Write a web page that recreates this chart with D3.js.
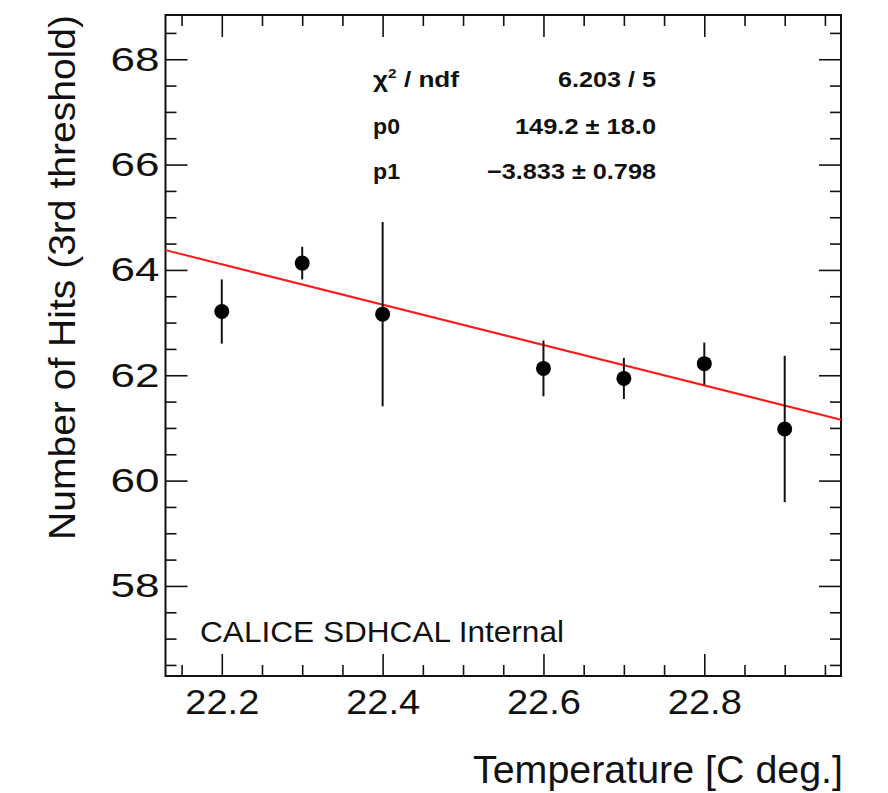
<!DOCTYPE html>
<html>
<head>
<meta charset="utf-8">
<script src="https://cdn.jsdelivr.net/npm/d3@7"></script>
<style>
  html, body { margin: 0; padding: 0; background: #fff; }
  svg { display: block; }
  text { font-family: "Liberation Sans", Arial, Helvetica, sans-serif; fill: #111; }
</style>
</head>
<body>
<svg id="chart" width="888" height="793"></svg>
<script>
// ---- data ----
const temperatures = [22.2, 22.3, 22.4, 22.6, 22.7, 22.8, 22.9];
const hits = [63.21, 64.13, 63.16, 62.13, 61.94, 62.22, 60.98];
const hitErrors = [0.61, 0.31, 1.75, 0.53, 0.39, 0.40, 1.39];
const fitParams = [149.2, -3.833];            // p0, p1 of linear fit
const xTickValues = [22.2, 22.4, 22.6, 22.8];
const yTickValues = [58, 60, 62, 64, 66, 68];
const xDomain = [22.13, 22.97];
const yDomain = [56.29, 68.84];
const statsLabels = ["χ", "p0", "p1"];
const statsValues = ["6.203 / 5", "149.2 ± 18.0", "−3.833 ± 0.798"];
const xTitle = "Temperature [C deg.]";
const yTitle = "Number of Hits (3rd threshold)";
const watermark = "CALICE SDHCAL Internal";

// ---- layout ----
const L = 165.5, R = 841, T = 15, B = 676;
const svg = d3.select("#chart");
const x = d3.scaleLinear().domain(xDomain).range([L, R]);
const y = d3.scaleLinear().domain(yDomain).range([B, T]);

function fitWidth(sel, w) {
  sel.each(function () {
    this.setAttribute("textLength", w);
    this.setAttribute("lengthAdjust", "spacingAndGlyphs");
  });
}

const xMinor = d3.range(22.15, 22.96, 0.05).filter(v => !xTickValues.some(t => Math.abs(t - v) < 1e-6));
const yMinor = d3.range(56.5, 68.81, 0.5).filter(v => !yTickValues.some(t => Math.abs(t - v) < 1e-6));

const MAJ = 22, MIN = 11;
function styleAxis(g) {
  g.select(".domain").remove();
  g.selectAll(".tick line").attr("stroke", "#111").attr("stroke-width", 1.6);
}

// bottom
const gB = svg.append("g").attr("transform", `translate(0,${B})`)
  .call(d3.axisBottom(x).tickValues(xTickValues).tickSize(-MAJ).tickPadding(13).tickFormat(d3.format(".1f")));
styleAxis(gB);
gB.selectAll("text").attr("font-size", 35).attr("fill", "#111").call(fitWidth, 74);
svg.append("g").attr("transform", `translate(0,${B})`)
  .call(d3.axisBottom(x).tickValues(xMinor).tickSize(-MIN).tickFormat("")).call(styleAxis);
// top
svg.append("g").attr("transform", `translate(0,${T})`)
  .call(d3.axisTop(x).tickValues(xTickValues).tickSize(-MAJ).tickFormat("")).call(styleAxis);
svg.append("g").attr("transform", `translate(0,${T})`)
  .call(d3.axisTop(x).tickValues(xMinor).tickSize(-MIN).tickFormat("")).call(styleAxis);
// left
const gL = svg.append("g").attr("transform", `translate(${L},0)`)
  .call(d3.axisLeft(y).tickValues(yTickValues).tickSize(-MAJ).tickPadding(6).tickFormat(d3.format("d")));
styleAxis(gL);
gL.selectAll("text").attr("font-size", 34).attr("fill", "#111").call(fitWidth, 49);
svg.append("g").attr("transform", `translate(${L},0)`)
  .call(d3.axisLeft(y).tickValues(yMinor).tickSize(-MIN).tickFormat("")).call(styleAxis);
// right
svg.append("g").attr("transform", `translate(${R},0)`)
  .call(d3.axisRight(y).tickValues(yTickValues).tickSize(-MAJ).tickFormat("")).call(styleAxis);
svg.append("g").attr("transform", `translate(${R},0)`)
  .call(d3.axisRight(y).tickValues(yMinor).tickSize(-MIN).tickFormat("")).call(styleAxis);

// frame
svg.append("rect").attr("x", L).attr("y", T).attr("width", R - L).attr("height", B - T)
  .attr("fill", "none").attr("stroke", "#111").attr("stroke-width", 2);

// fit line
const fitLine = d3.line().x(d => x(d)).y(d => y(fitParams[0] + fitParams[1] * d));
svg.append("path").datum(xDomain).attr("d", fitLine)
  .attr("fill", "none").attr("stroke", "#ff1a1a").attr("stroke-width", 2);

// error bars + points
const pts = temperatures.map((t, i) => ({ t, v: hits[i], e: hitErrors[i] }));
svg.append("g").selectAll("line").data(pts).join("line")
  .attr("x1", d => x(d.t)).attr("x2", d => x(d.t))
  .attr("y1", d => y(d.v - d.e)).attr("y2", d => y(d.v + d.e))
  .attr("stroke", "#111").attr("stroke-width", 2);
svg.append("g").selectAll("circle").data(pts).join("circle")
  .attr("cx", d => x(d.t)).attr("cy", d => y(d.v)).attr("r", 7.5).attr("fill", "#000");

// stats box
const statsBase = [87, 134, 179];
const statsG = svg.append("g").attr("font-size", 22).attr("font-weight", "bold");
statsLabels.forEach((lab, i) => {
  const t = statsG.append("text").attr("x", 373).attr("y", statsBase[i]);
  if (i === 0) {
    t.append("tspan").text(lab);
    t.append("tspan").attr("dy", -9).attr("font-size", 13).text("2");
    t.append("tspan").attr("dy", 9).text(" / ndf");
    fitWidth(t, 86);
  } else {
    t.text(lab);
    fitWidth(t, 27);
  }
});
const valueWidths = [98, 141, 169];
statsValues.forEach((val, i) => {
  const t = statsG.append("text").attr("x", 656).attr("y", statsBase[i])
    .attr("text-anchor", "end").text(val);
  fitWidth(t, valueWidths[i]);
});

// watermark
svg.append("text").attr("x", 200).attr("y", 642).attr("font-size", 30)
  .text(watermark).call(fitWidth, 364);

// axis titles
svg.append("text").attr("x", 843).attr("y", 783).attr("text-anchor", "end")
  .attr("font-size", 38).text(xTitle).call(fitWidth, 370);
svg.append("text").attr("transform", `translate(75,${T}) rotate(-90)`)
  .attr("text-anchor", "end").attr("font-size", 36).text(yTitle).call(fitWidth, 525);
</script>
</body>
</html>
